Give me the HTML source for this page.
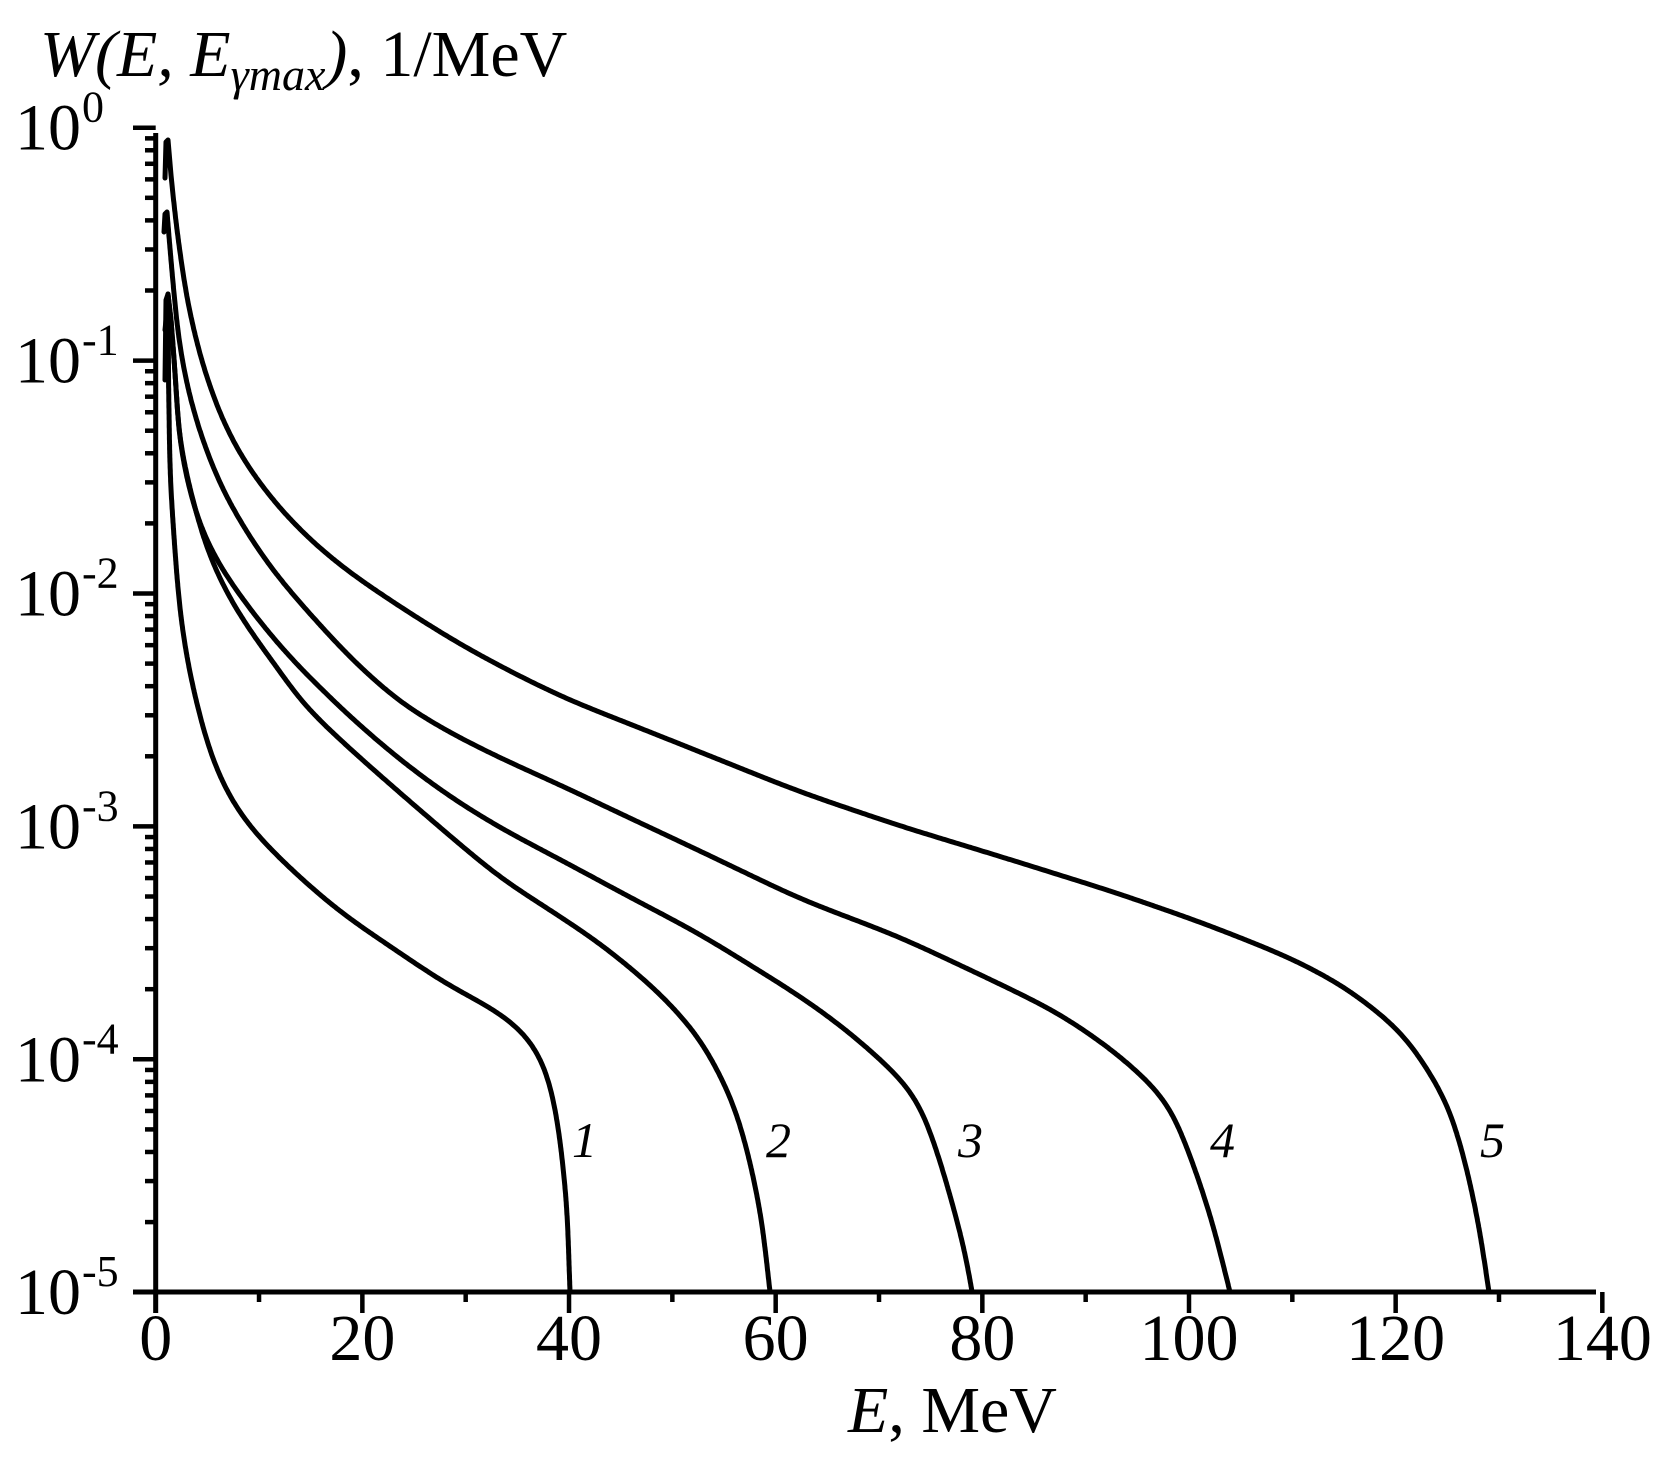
<!DOCTYPE html>
<html><head><meta charset="utf-8"><style>html,body{margin:0;padding:0;background:#fff}svg{display:block}text{font-family:"Liberation Serif","Times New Roman",serif}</style></head>
<body>
<svg width="1662" height="1463" viewBox="0 0 1662 1463" xmlns="http://www.w3.org/2000/svg">
<rect width="1662" height="1463" fill="#fff"/>
<g stroke="#000" stroke-width="5" fill="none">
<line x1="155.7" y1="133" x2="155.7" y2="1313"/>
<line x1="133" y1="1292" x2="1596" y2="1292"/>
</g>
<g stroke="#000" stroke-width="4.5" id="ticks"></g>
<g font-size="66" fill="#000" id="labels"></g>
<text x="40" y="76" font-size="66" font-style="italic">W(E, E<tspan font-size="46" dy="14">γmax</tspan><tspan dy="-14">)</tspan><tspan font-style="normal">, 1/MeV</tspan></text>
<text x="848" y="1432" font-size="66"><tspan font-style="italic">E</tspan>, MeV</text>
<g stroke="#000" stroke-width="5" fill="none" stroke-linejoin="round" stroke-linecap="round" id="curves"></g>
<g fill="#000" font-size="50" font-style="italic">
<text x="572" y="1157">1</text><text x="766" y="1157">2</text><text x="958" y="1157">3</text><text x="1210" y="1157">4</text><text x="1480" y="1157">5</text>
</g>
</svg>
<script>
var ns="http://www.w3.org/2000/svg",t=document.getElementById("ticks"),l=document.getElementById("labels");
function ln(a,b,c,d){var e=document.createElementNS(ns,"line");e.setAttribute("x1",a);e.setAttribute("y1",b);e.setAttribute("x2",c);e.setAttribute("y2",d);t.appendChild(e);}
for(var n=0;n<=14;n++){var x=155.7+n*103.33;ln(x,1292,x,n%2?1302:1313);
if(n%2==0){var s=document.createElementNS(ns,"text");s.setAttribute("x",x);s.setAttribute("y",1360);s.setAttribute("text-anchor","middle");s.textContent=String(n*10);l.appendChild(s);}}
for(var k=0;k<=5;k++){var y=127.7+k*232.9;ln(133,y,155.7,y);
var s=document.createElementNS(ns,"text");s.setAttribute("x",81);s.setAttribute("y",y+22);s.setAttribute("text-anchor","end");s.textContent="10";l.appendChild(s);
var u=document.createElementNS(ns,"text");u.setAttribute("x",82);u.setAttribute("y",y-6);u.setAttribute("font-size","44");u.textContent=k?"-"+k:"0";l.appendChild(u);
if(k<5)for(var m=2;m<=9;m++){var yy=y+232.9*(1-Math.log10(m));ln(145,yy,155.7,yy);}}
var C=[
[4,[[165,178],[166,142],[168,140],[171,175],[175.7,222],[186.4,298],[200.7,360],[222,421],[247,467],[283,513],[318.6,548],[354,576],[408,612],[461,645],[515,674],[568.6,700],[640,728],[700,752],[800,792],[900,826],[1002,857],[1117,893],[1203,923],[1289,957],[1346,987],[1404,1033],[1447,1100],[1465,1160],[1479,1225],[1489,1292]]],
[3,[[164,232],[165,214],[167,212],[172,273],[179,345],[190,400],[204,445],[222,490],[247,533],[272,570],[300,603],[350,658],[400,703],[450,733],[500,758],[569,789],[600,804],[700,851],[800,899],[900,937],[1000,984],[1059,1013],[1117,1053],[1168,1100],[1192,1160],[1212,1220],[1230,1292]]],
[4,[[165,380],[166,300],[168,294],[171,320],[175.7,380],[179,440],[190,495],[205,540],[222,570],[240,596],[260,622],[283,650],[300,668],[350,717],[400,760],[450,797],[500,828],[568.6,864],[622,893],[700,934],[800,996],[847,1030],[900,1077],[919,1100],[940,1160],[957,1220],[967,1260],[972,1292]]],
[2,[[168,294],[171,320],[175.7,380],[179,440],[190,490],[205,545],[222,585],[240,616],[260,645],[283,675],[300,702],[350,749],[400,793],[450,836],[500,878],[550,910],[600,943],[657,990],[700,1037],[733,1100],[750,1160],[762,1220],[770,1292]]],
[3,[[165,330],[168,300],[168.6,385],[170,477],[174,538],[179,604],[186,655],[197,706],[211,757],[229,798],[254,833],[300,878],[343.6,915],[400,953],[447,985],[500,1012],[533,1039],[549,1076],[559,1129],[567,1204],[570,1292]]]];
var g=document.getElementById("curves");
function resample(p,step){var o=[p[0]];for(var i=0;i+1<p.length;i++){var a=p[i],b=p[i+1],dx=b[0]-a[0],dy=b[1]-a[1],L=Math.sqrt(dx*dx+dy*dy),n=Math.max(1,Math.round(L/step));for(var j=1;j<=n;j++)o.push([a[0]+dx*j/n,a[1]+dy*j/n]);}return o;}
function smooth(p,h){var o=[];for(var i=0;i<p.length;i++){var w=Math.min(h,i,p.length-1-i),sx=0,sy=0;for(var j=-w;j<=w;j++){sx+=p[i+j][0];sy+=p[i+j][1];}o.push([sx/(2*w+1),sy/(2*w+1)]);}return o;}
C.forEach(function(c){var k=c[0],p=c[1],head=p.slice(0,k),tail=resample(p.slice(k-1),2);
for(var r=0;r<4;r++)tail=smooth(tail,10);
var all=head.concat(tail.slice(1)),d="M"+all.map(function(q){return q[0].toFixed(1)+","+q[1].toFixed(1);}).join(" L");
var e=document.createElementNS(ns,"path");e.setAttribute("d",d);g.appendChild(e);});
</script>
</body></html>
